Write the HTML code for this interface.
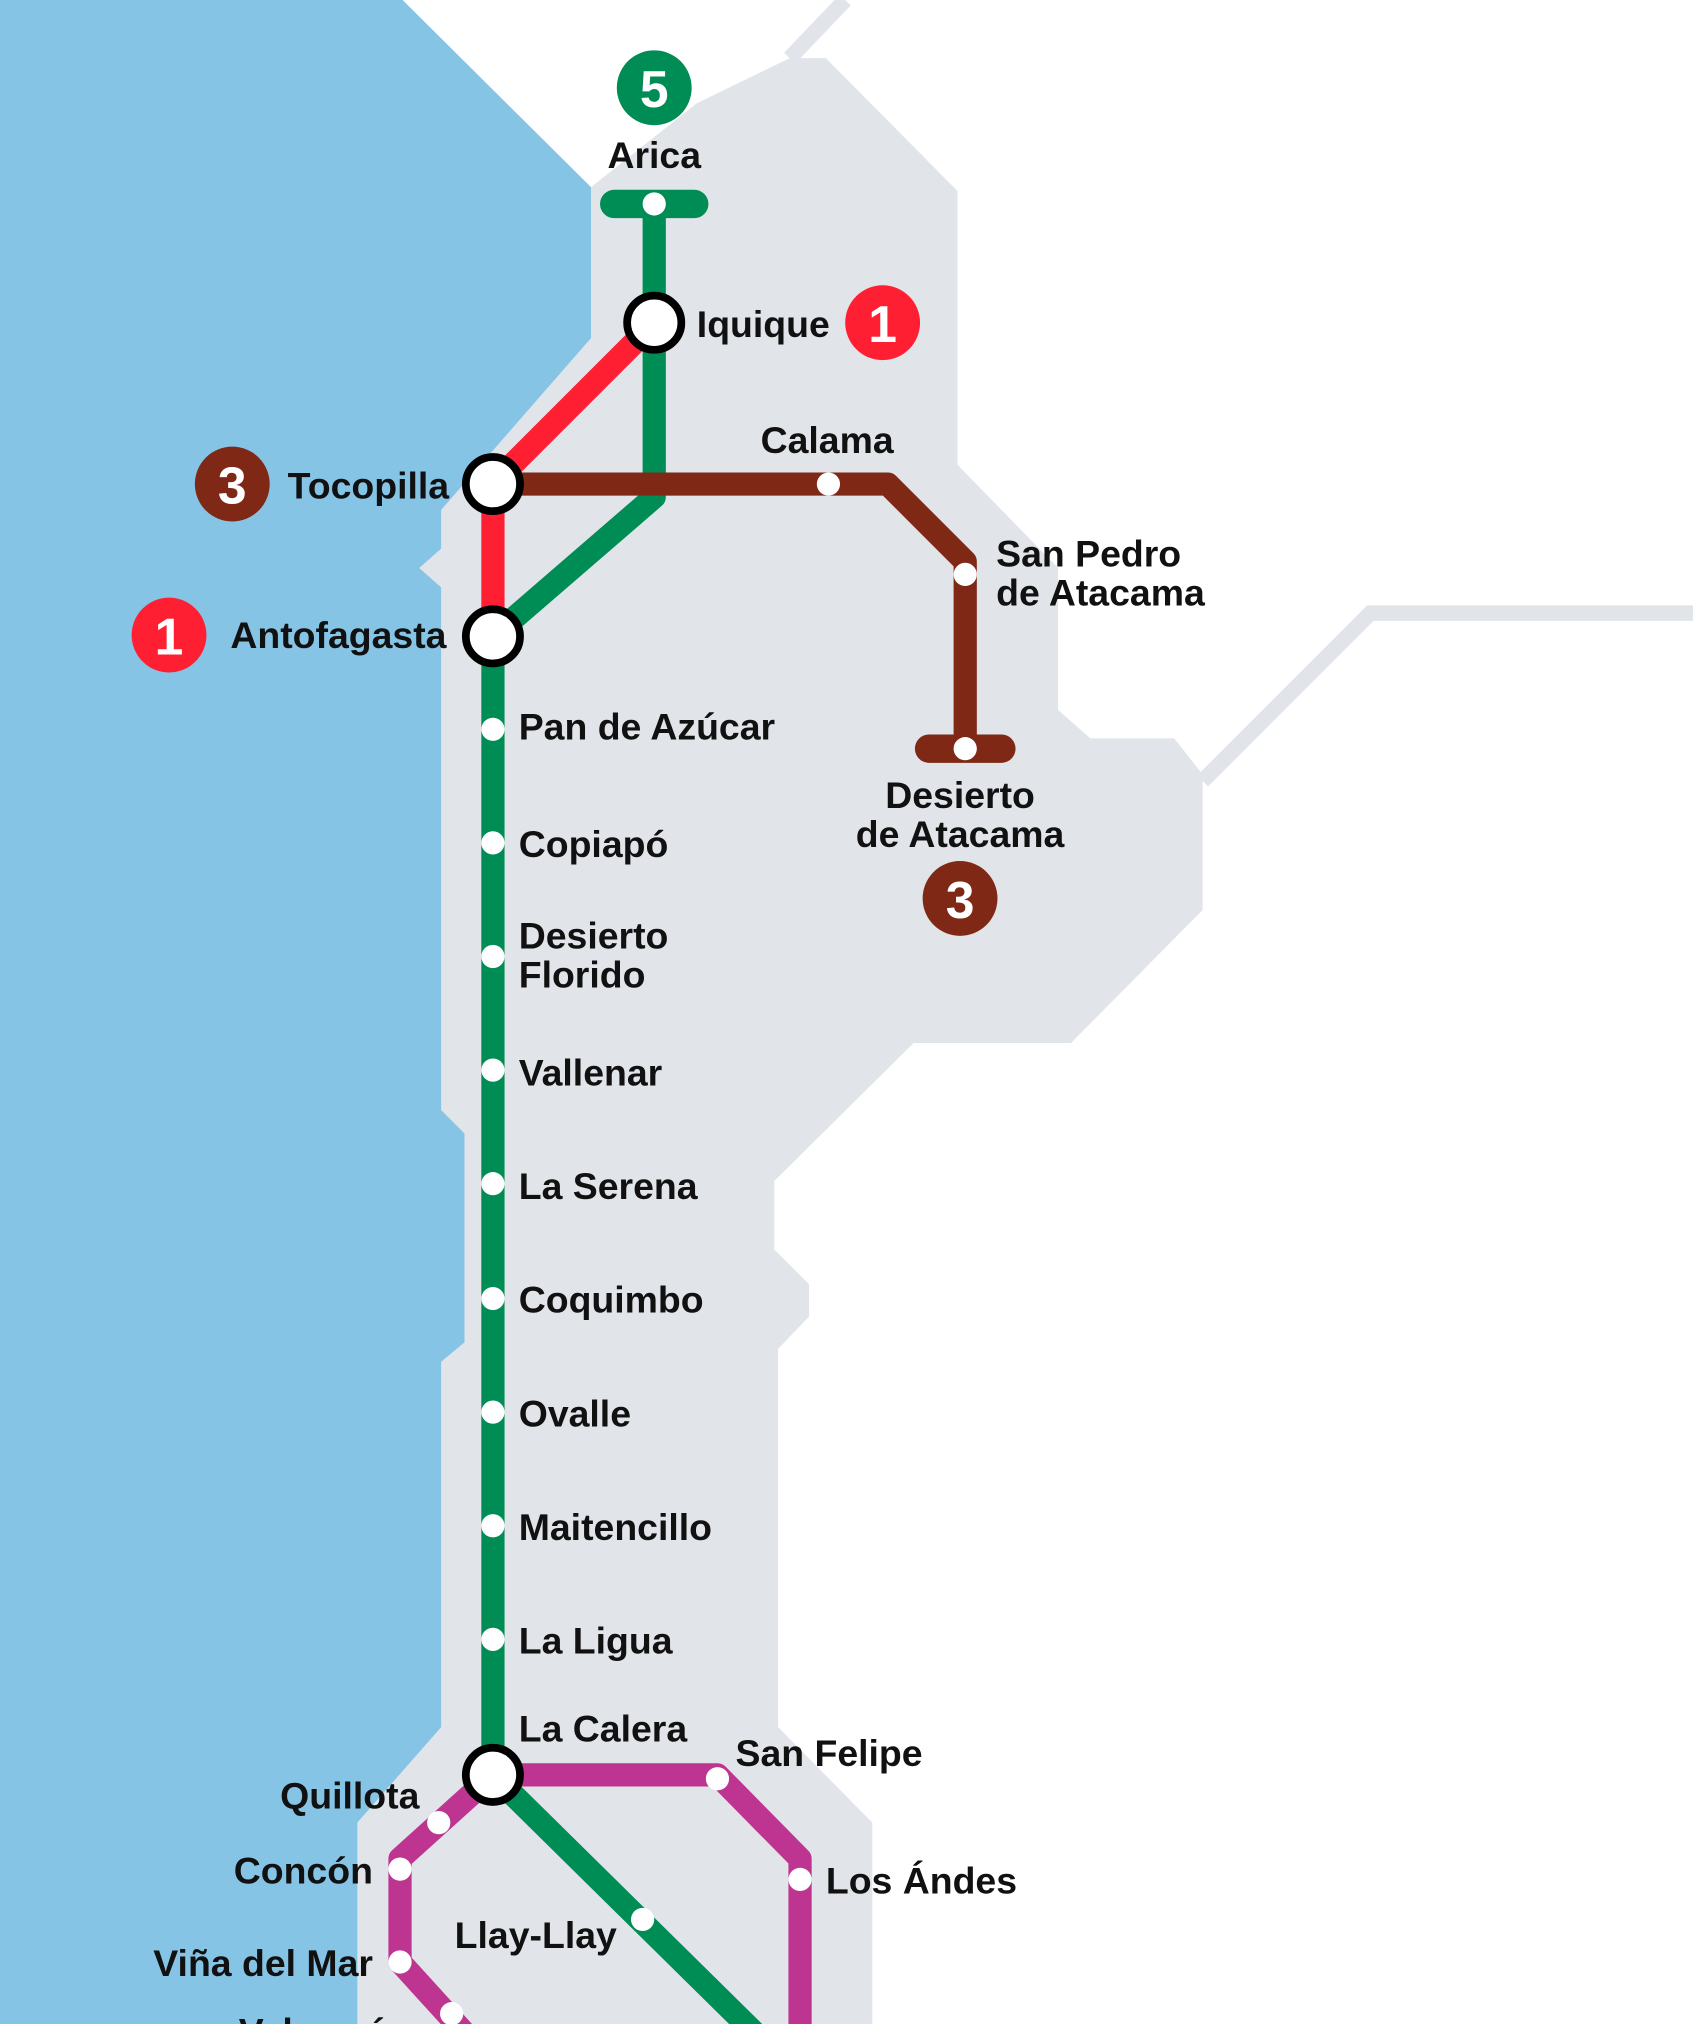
<!DOCTYPE html>
<html><head><meta charset="utf-8"><style>
html,body{margin:0;padding:0;background:#fff;}
svg{display:block;}
text{font-family:"Liberation Sans",sans-serif;font-weight:bold;font-size:29px;fill:#111;}
.b{fill:#fff;font-size:40px;text-anchor:middle;}
</style></head><body>
<svg width="1693" height="2024" viewBox="0 0 1312 1568" preserveAspectRatio="none" xmlns="http://www.w3.org/2000/svg">
<rect width="1312" height="1568" fill="#fff"/>
<!-- ocean -->
<polygon points="0,0 312,0 458,145 458,262 342,395 342,425 325,440 342,455 342,860 360,878 360,1040 342,1055 342,1338 277,1412 277,1568 0,1568" fill="#86C4E6"/>
<!-- land -->
<polygon points="458,145 540,80 612,45 640,45 742,148 742,360 820,440 820,550 845,572 910,572 932,600 932,705 830,808 708,808 600,915 600,968 627,995 627,1020 603,1045 603,1338 676,1412 676,1568 277,1568 277,1412 342,1338 342,1055 360,1040 360,878 342,860 342,455 325,440 342,425 342,395 458,262" fill="#E1E4E9"/>
<polyline points="655,0 612,45" stroke="#E1E4E9" stroke-width="12" fill="none"/>
<polyline points="932,605 1062,475 1312,475" stroke="#E1E4E9" stroke-width="12" fill="none"/>
<!-- lines -->
<g fill="none" stroke-width="18" stroke-linejoin="round">
<polyline points="507,158 507,385 382,493 382,1375 590,1580" stroke="#008C55"/>
<line x1="476" y1="158" x2="538" y2="158" stroke="#008C55" stroke-linecap="round" stroke-width="22"/>
<polyline points="507,250 382,375 382,493" stroke="#FF1F33"/>
<polyline points="382,375 688,375 748,435 748,580" stroke="#802816"/>
<line x1="720" y1="580" x2="776" y2="580" stroke="#802816" stroke-linecap="round" stroke-width="22"/>
<polyline points="382,1375 556,1375 620,1440 620,1580" stroke="#BD3590"/>
<polyline points="382,1375 310,1440 310,1520 360,1575" stroke="#BD3590"/>
</g>
<!-- small stations -->
<g fill="#fff">
<circle cx="507" cy="158" r="9"/><circle cx="642" cy="375" r="9"/><circle cx="748" cy="445" r="9"/><circle cx="748" cy="580" r="9"/>
<circle cx="382" cy="565" r="9"/><circle cx="382" cy="653" r="9"/><circle cx="382" cy="741" r="9"/><circle cx="382" cy="829" r="9"/>
<circle cx="382" cy="917" r="9"/><circle cx="382" cy="1006" r="9"/><circle cx="382" cy="1094" r="9"/><circle cx="382" cy="1182" r="9"/><circle cx="382" cy="1270" r="9"/>
<circle cx="556" cy="1378" r="9"/><circle cx="620" cy="1456" r="9"/><circle cx="498" cy="1487" r="9"/>
<circle cx="340" cy="1412" r="9"/><circle cx="310" cy="1448" r="9"/><circle cx="310" cy="1520" r="9"/><circle cx="350" cy="1560" r="9"/>
</g>
<g fill="#fff" stroke="#000" stroke-width="6">
<circle cx="507" cy="250" r="21"/><circle cx="382" cy="375" r="21"/><circle cx="382" cy="493" r="21"/><circle cx="382" cy="1375" r="21"/>
</g>
<!-- badges -->
<circle cx="507" cy="68" r="29" fill="#008C55"/><text class="b" x="507" y="83">5</text>
<circle cx="684" cy="250" r="29" fill="#FF1F33"/><text class="b" x="684" y="265">1</text>
<circle cx="180" cy="375" r="29" fill="#802816"/><text class="b" x="180" y="390">3</text>
<circle cx="131" cy="492" r="29" fill="#FF1F33"/><text class="b" x="131" y="507">1</text>
<circle cx="744" cy="696" r="29" fill="#802816"/><text class="b" x="744" y="711">3</text>
<!-- labels -->
<text x="507" y="130" text-anchor="middle">Arica</text>
<text x="540" y="261">Iquique</text>
<text x="641" y="351" text-anchor="middle">Calama</text>
<text x="348" y="386" text-anchor="end">Tocopilla</text>
<text x="772" y="439">San Pedro</text>
<text x="772" y="469">de Atacama</text>
<text x="346" y="502" text-anchor="end">Antofagasta</text>
<text x="402" y="573">Pan de Azúcar</text>
<text x="744" y="626" text-anchor="middle">Desierto</text>
<text x="744" y="656" text-anchor="middle">de Atacama</text>
<text x="402" y="664">Copiapó</text>
<text x="402" y="735">Desierto</text>
<text x="402" y="765">Florido</text>
<text x="402" y="841">Vallenar</text>
<text x="402" y="929">La Serena</text>
<text x="402" y="1017">Coquimbo</text>
<text x="402" y="1105">Ovalle</text>
<text x="402" y="1193">Maitencillo</text>
<text x="402" y="1281">La Ligua</text>
<text x="402" y="1349">La Calera</text>
<text x="570" y="1368">San Felipe</text>
<text x="325" y="1401" text-anchor="end">Quillota</text>
<text x="289" y="1459" text-anchor="end">Concón</text>
<text x="640" y="1467">Los Ándes</text>
<text x="478" y="1509" text-anchor="end">Llay-Llay</text>
<text x="289" y="1531" text-anchor="end">Viña del Mar</text>
<text x="330" y="1584" text-anchor="end">Valparaíso</text>
</svg>
</body></html>
